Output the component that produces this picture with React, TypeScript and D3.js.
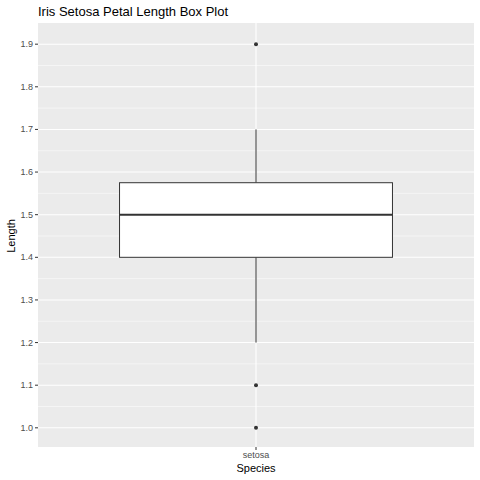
import React from 'react';
import * as d3 from 'd3';

const species = ['setosa'];
const whiskerLow = [1.2];
const q1 = [1.4];
const median = [1.5];
const q3 = [1.575];
const whiskerHigh = [1.7];
const outliers = [1.9, 1.1, 1.0];
const yTicks = [1.0, 1.1, 1.2, 1.3, 1.4, 1.5, 1.6, 1.7, 1.8, 1.9];

function App() {
  const width = 480;
  const height = 480;
  const margin = { top: 25, right: 6, bottom: 33, left: 38 };
  const font = '"Liberation Sans", Arial, sans-serif';

  const y = d3.scaleLinear()
    .domain([1.0 - 0.045, 1.9 + 0.045])
    .range([height - margin.bottom, margin.top]);
  const x = d3.scaleBand()
    .domain(species)
    .range([margin.left, width - margin.right]);

  const minor = yTicks.slice(0, -1).map(t => t + 0.05);
  const bw = x.bandwidth() * 0.626;

  return (
    <div style={{ position: 'absolute', left: 0, top: 0 }}>
      <svg width={width} height={height} style={{ display: 'block', background: '#fff' }}>
        <rect x={margin.left} y={margin.top - 2} width={width - margin.left - margin.right}
          height={height - margin.top - margin.bottom + 2} fill="#EBEBEB" />
        {minor.map(t => (
          <line key={'m' + t} x1={margin.left} x2={width - margin.right} y1={y(t)} y2={y(t)}
            stroke="#fff" strokeWidth={0.5} />
        ))}
        {yTicks.map(t => (
          <line key={'g' + t} x1={margin.left} x2={width - margin.right} y1={y(t)} y2={y(t)}
            stroke="#fff" strokeWidth={1.1} />
        ))}
        {species.map(s => {
          const cx = x(s)! + x.bandwidth() / 2;
          return <line key={'v' + s} x1={cx} x2={cx} y1={margin.top - 2} y2={height - margin.bottom}
            stroke="#fff" strokeWidth={1.1} />;
        })}
        {species.map((s, i) => {
          const cx = x(s)! + x.bandwidth() / 2;
          const left = cx - bw / 2;
          return (
            <g key={s}>
              <line x1={cx} x2={cx} y1={y(whiskerLow[i])} y2={y(q1[i])} stroke="#333" />
              <line x1={cx} x2={cx} y1={y(q3[i])} y2={y(whiskerHigh[i])} stroke="#333" />
              <rect x={left} y={y(q3[i])} width={bw} height={y(q1[i]) - y(q3[i])}
                fill="#fff" stroke="#333" strokeWidth={1} />
              <line x1={left} x2={left + bw} y1={y(median[i])} y2={y(median[i])}
                stroke="#333" strokeWidth={2} />
              {outliers.map(o => <circle key={o} cx={cx} cy={y(o)} r={2} fill="#333" />)}
              <line x1={cx} x2={cx} y1={height - margin.bottom} y2={height - margin.bottom + 3} stroke="#333" />
              <text x={cx} y={height - margin.bottom + 11} fontSize={9} fill="#4D4D4D"
                textAnchor="middle" fontFamily={font}>{s}</text>
            </g>
          );
        })}
        {yTicks.map(t => (
          <g key={'t' + t}>
            <line x1={margin.left - 3} x2={margin.left} y1={y(t)} y2={y(t)} stroke="#333" />
            <text x={margin.left - 5} y={y(t) + 3} fontSize={9} fill="#4D4D4D"
              textAnchor="end" fontFamily={font}>{t.toFixed(1)}</text>
          </g>
        ))}
        <text x={margin.left} y={16} fontSize={13} fill="#000" fontFamily={font}>
          Iris Setosa Petal Length Box Plot
        </text>
        <text x={(margin.left + width - margin.right) / 2} y={472} fontSize={11}
          textAnchor="middle" fontFamily={font}>Species</text>
        <text transform={`translate(15,${(margin.top + height - margin.bottom) / 2}) rotate(-90)`}
          fontSize={11} textAnchor="middle" fontFamily={font}>Length</text>
      </svg>
    </div>
  );
}

export default App;
